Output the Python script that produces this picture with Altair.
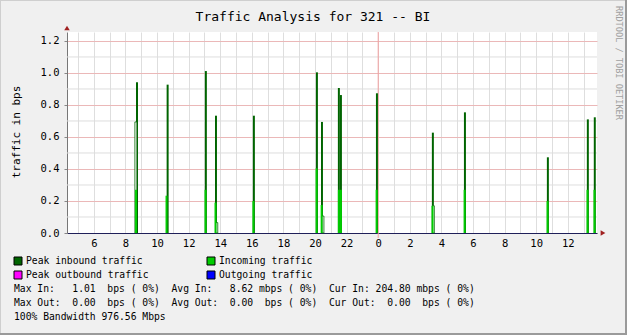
import altair as alt
import pandas as pd

# ---- data (hours relative to midnight, values in bps) ----
peak_hours = [-15.27, -13.33, -10.91, -10.27, -7.87, -3.88, -3.56, -2.49, -2.36, -0.08, 3.46, 5.49, 10.74, 13.27, 13.71]
peak_values = [0.942, 0.927, 1.012, 0.733, 0.733, 1.004, 0.694, 0.906, 0.862, 0.873, 0.627, 0.754, 0.473, 0.710, 0.723]
in_hours = [-15.33, -13.40, -10.93, -10.30, -7.90, -3.90, -3.58, -2.49, -2.36, -0.10, 3.44, 5.47, 10.72, 13.25, 13.69]
in_values = [0.27, 0.233, 0.27, 0.19, 0.20, 0.404, 0.175, 0.27, 0.27, 0.27, 0.17, 0.27, 0.20, 0.27, 0.27]
gap_hours = [-15.34, -10.22, -3.50, 3.49]
gap_values = [0.694, 0.065, 0.106, 0.17]

hour_ticks = list(range(-19, 14))
y_major = [0.0, 0.2, 0.4, 0.6, 0.8, 1.0, 1.2]
y_minor = [0.1, 0.3, 0.5, 0.7, 0.9, 1.1]

title_text = "Traffic Analysis for 321 -- BI"
y_title = "traffic in bps"
side_text = "RRDTOOL / TOBI OETIKER"
legend_labels = ["Peak inbound traffic", "Incoming traffic", "Peak outbound traffic", "Outgoing traffic"]
legend_colors = ["#006400", "#00CC00", "#FF00FF", "#0000FF"]
stat_lines = [
    "Max In:   1.01  bps ( 0%)  Avg In:   8.62 mbps ( 0%)  Cur In: 204.80 mbps ( 0%)",
    "Max Out:  0.00  bps ( 0%)  Avg Out:  0.00  bps ( 0%)  Cur Out:  0.00  bps ( 0%)",
    "100% Bandwidth 976.56 Mbps",
]

FONT = "DejaVu Sans Mono"
HW = 0.063
W, H = 530, 201

def bars(hours, values):
    return pd.DataFrame({
        "x0": [h - HW for h in hours],
        "x1": [h + HW for h in hours],
        "v": values,
        "base": [0.0] * len(values),
    })

xscale = alt.Scale(domain=[-19.7, 13.85], nice=False, zero=False)
yscale = alt.Scale(domain=[0, 1.256], nice=False, zero=True)

xaxis = alt.Axis(
    values=hour_ticks,
    labelExpr="datum.value % 2 == 0 ? '' + (((datum.value % 24) + 24) % 24) : ''",
    grid=True, gridColor="#DEDEDE", gridWidth=1,
    ticks=False,
    domainColor="#20205A", domainWidth=1,
    labelFont=FONT, labelFontSize=10.5, labelColor="black",
    labelPadding=5, labelOverlap=False, labelFlush=False, labelBound=False,
    title=None,
)
yaxis = alt.Axis(
    values=y_major, format=".1f",
    grid=True, gridColor="#EBB8B8", gridWidth=1,
    tickSize=3, tickColor="#888888",
    domainColor="#777777",
    labelFont=FONT, labelFontSize=10.5, labelColor="black",
    labelPadding=5, labelOverlap=False, labelFlush=False, labelBound=False,
    title=None,
)

minor = alt.Chart(pd.DataFrame({"y": y_minor})).mark_rule(color="#DEDEDE", strokeWidth=1).encode(
    y=alt.Y("y:Q", scale=yscale, axis=yaxis)
)

midnight = alt.Chart(pd.DataFrame({"x": [0.0]})).mark_rule(color="#F2A0A0", strokeWidth=1).encode(
    x=alt.X("x:Q", scale=xscale, axis=xaxis), y=alt.value(0), y2=alt.value(H + 5)
)

def bar_layer(df, **kw):
    return alt.Chart(df).mark_rect(**kw).encode(
        x=alt.X("x0:Q", scale=xscale, axis=xaxis),
        x2="x1:Q",
        y=alt.Y("v:Q", scale=yscale, axis=yaxis),
        y2="base:Q",
    )

peak = bar_layer(bars(peak_hours, peak_values), color="#006400")
gap = bar_layer(bars(gap_hours, gap_values), fill="white", stroke="#006400", strokeWidth=0.8)
incoming = bar_layer(bars(in_hours, in_values), color="#00CC00")

one = alt.Data(values=[{}])

def txt(s, x, y, size=9.7, align="left", angle=0, color="black"):
    return alt.Chart(one).mark_text(
        text=s.replace(" ", "\u00a0"), align=align, baseline="middle", font=FONT,
        fontSize=size, angle=angle, color=color,
    ).encode(x=alt.value(x), y=alt.value(y))

def rect(x, x2, y, y2, **kw):
    return alt.Chart(one).mark_rect(**kw).encode(
        x=alt.value(x), x2=alt.value(x2), y=alt.value(y), y2=alt.value(y2)
    )

layers = [minor, midnight, peak, gap, incoming]

# axis arrows
layers.append(alt.Chart(one).mark_point(shape="triangle-right", filled=True, color="#A02020", size=30, opacity=1).encode(
    x=alt.value(W + 6), y=alt.value(H)))
layers.append(alt.Chart(one).mark_point(shape="triangle-up", filled=True, color="#A02020", size=30, opacity=1).encode(
    x=alt.value(0), y=alt.value(-4)))

# texts
layers.append(txt(title_text, 246, -15, size=13, align="center"))
layers.append(txt(y_title, -50, 100, size=11, align="center", angle=270))
layers.append(txt(side_text, 552, 31, size=8.6, align="center", angle=90, color="#A0A0A0"))

# legend
lx = [-53, 140, -53, 140]
ly = [229, 229, 243, 243]
for lab, col, x, y in zip(legend_labels, legend_colors, lx, ly):
    layers.append(rect(x, x + 8, y - 4, y + 4, fill=col, stroke="black", strokeWidth=1))
    layers.append(txt(lab, x + 12, y))
for i, line in enumerate(stat_lines):
    layers.append(txt(line, -53, 257.3 + 14 * i))

# image borders
layers.append(rect(-67, 560, -32, -31, fill="#CFCFCF"))
layers.append(rect(-67, -66, -32, 303, fill="#CFCFCF"))
layers.append(rect(558, 560, -32, 303, fill="#9A9A9A"))
layers.append(rect(-67, 560, 301, 303, fill="#9A9A9A"))

chart = alt.layer(*layers).properties(
    width=W, height=H, background="#F0F0F0",
    padding={"left": 67, "top": 32, "right": 30, "bottom": 102},
    autosize=alt.AutoSizeParams(type="none"),
).configure_view(fill="white", strokeWidth=0)

chart.save("out.html", embed_options={"renderer": "svg", "actions": False})
